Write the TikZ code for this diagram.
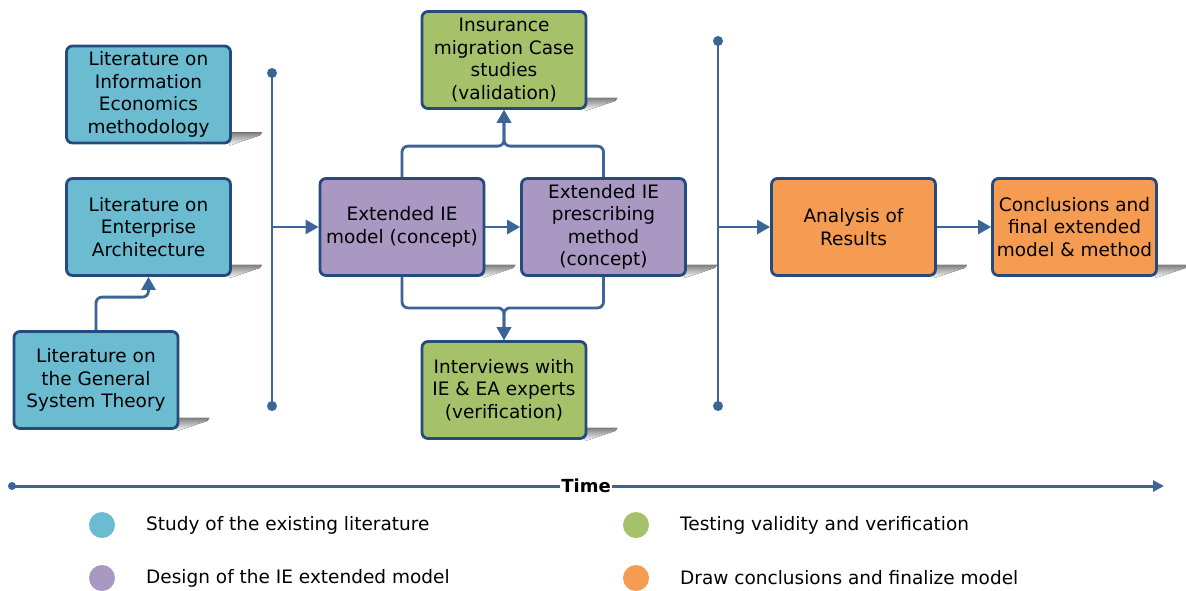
\documentclass[tikz,border=0pt]{standalone}
\usepackage{fontspec}
\setmainfont{DejaVu Sans}
\usetikzlibrary{arrows.meta,calc,backgrounds}

\definecolor{edge}{HTML}{264A7C}
\definecolor{link}{HTML}{3D6496}
\definecolor{litc}{HTML}{6BBCD1}
\definecolor{desc}{HTML}{A898C2}
\definecolor{testc}{HTML}{A5C26B}
\definecolor{concc}{HTML}{F69C52}
\definecolor{shade}{HTML}{C4C4C4}

\begin{document}
\begin{tikzpicture}[x=1pt,y=-1pt,
  box/.style={draw=edge, line width=2.8pt, rounded corners=6pt,
    minimum width=164pt, minimum height=97pt, align=center, inner sep=2pt,
    font=\fontsize{18.5}{22.5}\selectfont, text=black},
  lit/.style={box, fill=litc},
  dsg/.style={box, fill=desc},
  tst/.style={box, fill=testc},
  cnc/.style={box, fill=concc},
  conn/.style={draw=link, line width=2.8pt, rounded corners=6pt},
  arr/.style={conn, -{Triangle[length=13pt,width=14pt]}},
  bar/.style={draw=link, line width=2.8pt},
  dot/.style={fill=link, circle, minimum size=10pt, inner sep=0pt},
  legdot/.style={circle, minimum size=26pt, inner sep=0pt},
  legtext/.style={anchor=west, font=\fontsize{18.5}{22}\selectfont, inner sep=0pt}
]
\useasboundingbox (0,0) rectangle (1186,590);

% literature boxes
\node[lit] (iem) at (148.5,94.5) {Literature on\\Information\\Economics\\methodology};
\node[lit] (ea)  at (148.5,227) {Literature on\\Enterprise\\Architecture};
\node[lit] (gst) at (96,380) {Literature on\\the General\\System Theory};

% design boxes
\node[dsg] (model) at (402,227) {Extended IE\\model (concept)};
\node[dsg] (presc) at (603.5,227) {Extended IE\\prescribing\\method\\(concept)};

% testing boxes
\node[tst] (ins) at (504,60) {Insurance\\migration Case\\studies\\(validation)};
\node[tst] (int) at (504,390) {Interviews with\\IE \& EA experts\\(verification)};

% conclusion boxes
\node[cnc] (ana)  at (853.5,227) {Analysis of\\Results};
\node[cnc] (conc) at (1074.5,227) {Conclusions and\\final extended\\model \& method};

% drop shadows behind the boxes
\begin{pgfonlayer}{background}
\foreach \b in {iem,ea,gst,model,presc,ins,int,ana,conc}{
  \fill[shade] ($(\b.south east)+(-8,-12)$) -- ($(\b.south east)+(30,-12)$)
    -- ($(\b.south east)+(28,-9)$) -- ($(\b.south east)+(-2,1)$) -- cycle;
}
\end{pgfonlayer}

% milestone bars
\coordinate (v1a) at (272,73);
\coordinate (v1b) at (272,406);
\coordinate (v2a) at (718,41);
\coordinate (v2b) at (718,406);
\draw[bar] (v1a) -- (v1b);
\draw[bar] (v2a) -- (v2b);
\node[dot] (d1a) at (v1a) {};
\node[dot] (d1b) at (v1b) {};
\node[dot] (d2a) at (v2a) {};
\node[dot] (d2b) at (v2b) {};

% connectors
\draw[arr] (gst.north) -- ++(0,-33) -| (ea.south);
\draw[arr] (v1a |- model.west) -- (model.west);
\draw[arr] (model.east) -- (presc.west);
\draw[arr] (model.north) -- ++(0,-31) -| (ins.south);
\draw[arr] (presc.north) -- ++(0,-31) -| (ins.south);
\draw[arr] (model.south) -- ++(0,31) -| (int.north);
\draw[arr] (presc.south) -- ++(0,31) -| (int.north);
\draw[arr] (v2a |- ana.west) -- (ana.west);
\draw[arr] (ana.east) -- (conc.west);

% time axis
\coordinate (t0) at (12,486);
\coordinate (t1) at (1164,486);
\draw[draw=link, line width=3pt, -{Triangle[length=11pt,width=11pt]}] (t0) -- (t1);
\node[dot, minimum size=8pt] (tdot) at (t0) {};
\node[fill=white, inner sep=1pt, font=\bfseries\fontsize{18}{20}\selectfont] (time) at (586,486) {Time};

% legend
\node[legdot, fill=litc]  (l1) at (102,525) {};
\node[legdot, fill=desc]  (l2) at (102,578) {};
\node[legdot, fill=testc] (l3) at (636,525) {};
\node[legdot, fill=concc] (l4) at (636,578) {};
\node[legtext] (l1t) at (146,525) {Study of the existing literature};
\node[legtext] (l2t) at (146,578) {Design of the IE extended model};
\node[legtext] (l3t) at (680,525) {Testing validity and verification};
\node[legtext] (l4t) at (680,578) {Draw conclusions and finalize model};
\end{tikzpicture}
\end{document}
